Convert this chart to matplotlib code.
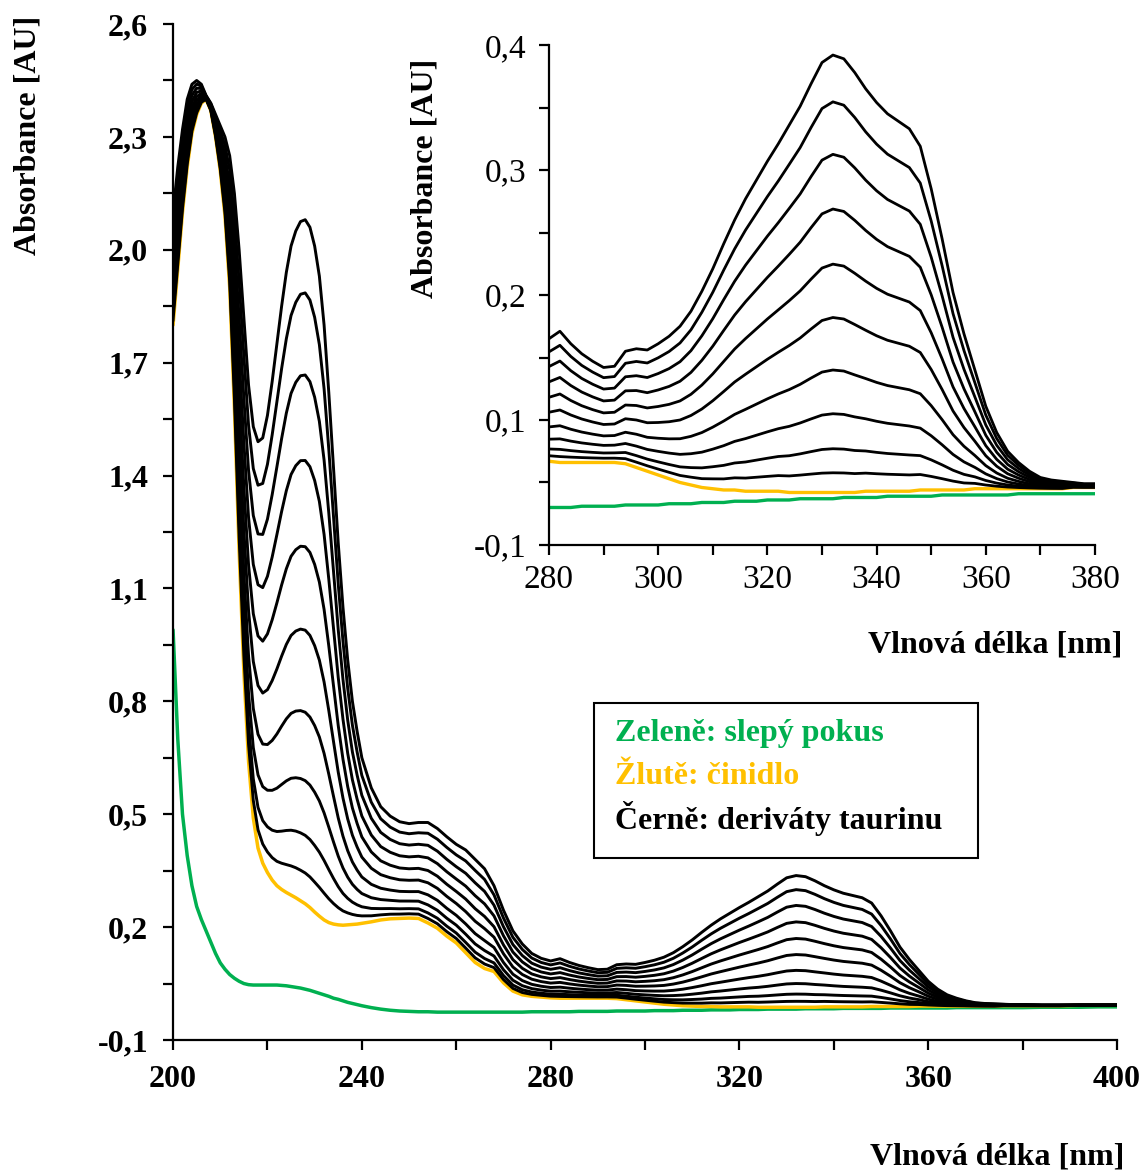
import numpy as np
import matplotlib
matplotlib.use("Agg")
import matplotlib.pyplot as plt
from matplotlib.patches import Rectangle

plt.rcParams['font.family'] = ['Liberation Serif', 'DejaVu Serif']

# wavelength grid [nm]
wl = np.concatenate([np.arange(200, 241, 1), np.arange(242, 381, 2), np.arange(384, 401, 4)])

# reagent alone (yellow)
reagent = [
    1.80, 1.95, 2.10, 2.22, 2.31, 2.36, 2.39, 2.40, 2.37, 2.30,
    2.21, 2.09, 1.90, 1.58, 1.20, 0.88, 0.64, 0.49, 0.41, 0.37,
    0.345, 0.325, 0.31, 0.30, 0.292, 0.285, 0.278, 0.27, 0.262, 0.252,
    0.24, 0.229, 0.219, 0.212, 0.208, 0.206, 0.205, 0.206, 0.207, 0.208,
    0.210,
    0.214, 0.219, 0.222, 0.223, 0.224, 0.223, 0.211, 0.197, 0.176, 0.158,
    0.132, 0.106, 0.090, 0.082, 0.052, 0.030, 0.020, 0.016, 0.014, 0.012,
    0.011, 0.011, 0.011, 0.011, 0.011, 0.011, 0.010, 0.007, 0.004, 0.001,
    -0.002, -0.005, -0.007, -0.009, -0.010, -0.011, -0.011, -0.012, -0.012, -0.012,
    -0.012, -0.013, -0.013, -0.013, -0.013, -0.013, -0.013, -0.013, -0.012, -0.012,
    -0.012, -0.012, -0.012, -0.011, -0.011, -0.011, -0.011, -0.011, -0.010, -0.010,
    -0.010, -0.010, -0.010, -0.010, -0.010, -0.010, -0.010, -0.009, -0.009, -0.009,
    -0.009, -0.009, -0.008, -0.008, -0.008,
]

# blank (green)
blank = [
    0.99, 0.70, 0.50, 0.39, 0.31, 0.255, 0.22, 0.19, 0.16, 0.13,
    0.105, 0.088, 0.074, 0.064, 0.056, 0.050, 0.047, 0.046, 0.046, 0.046,
    0.046, 0.046, 0.046, 0.045, 0.044, 0.042, 0.040, 0.038, 0.035, 0.032,
    0.028, 0.024, 0.020, 0.016, 0.011, 0.008, 0.004, 0.000, -0.003, -0.006,
    -0.009,
    -0.014, -0.018, -0.021, -0.023, -0.024, -0.025, -0.025, -0.026, -0.026, -0.026,
    -0.026, -0.026, -0.026, -0.026, -0.026, -0.026, -0.026, -0.025, -0.025, -0.025,
    -0.025, -0.025, -0.024, -0.024, -0.024, -0.024, -0.023, -0.023, -0.023, -0.023,
    -0.022, -0.022, -0.022, -0.021, -0.021, -0.021, -0.020, -0.020, -0.020, -0.019,
    -0.019, -0.019, -0.018, -0.018, -0.018, -0.018, -0.017, -0.017, -0.017, -0.017,
    -0.016, -0.016, -0.016, -0.016, -0.016, -0.015, -0.015, -0.015, -0.015, -0.015,
    -0.015, -0.015, -0.014, -0.014, -0.014, -0.014, -0.014, -0.014, -0.014, -0.014,
    -0.013, -0.013, -0.013, -0.012, -0.012,
]

# highest taurine derivative sample (top black curve)
top_sample = [
    2.10, 2.22, 2.32, 2.40, 2.44, 2.45, 2.44, 2.41, 2.39, 2.36,
    2.33, 2.30, 2.25, 2.15, 2.00, 1.82, 1.64, 1.53, 1.49, 1.50,
    1.56, 1.65, 1.75, 1.85, 1.94, 2.01, 2.05, 2.075, 2.08, 2.06,
    2.01, 1.93, 1.80, 1.62, 1.42, 1.22, 1.05, 0.91, 0.80, 0.72,
    0.65,
    0.57, 0.52, 0.495, 0.480, 0.475, 0.478, 0.478, 0.462, 0.440, 0.420,
    0.405, 0.380, 0.355, 0.310, 0.245, 0.190, 0.155, 0.130, 0.117, 0.110,
    0.116, 0.106, 0.098, 0.092, 0.087, 0.088, 0.100, 0.102, 0.101, 0.106,
    0.112, 0.120, 0.132, 0.148, 0.166, 0.186, 0.205, 0.222, 0.237, 0.252,
    0.266, 0.281, 0.296, 0.314, 0.331, 0.337, 0.334, 0.323, 0.310, 0.299,
    0.290, 0.284, 0.278, 0.264, 0.230, 0.190, 0.147, 0.114, 0.085, 0.056,
    0.035, 0.020, 0.011, 0.004, -0.001, -0.003, -0.004, -0.005, -0.006, -0.006,
    -0.007, -0.007, -0.007, -0.007, -0.007,
]

# relative derivative content of the black series (top = 1)
levels = [1.0, 0.893, 0.773, 0.648, 0.522, 0.40, 0.28, 0.18, 0.10, 0.045]

reagent = np.array(reagent)
blank = np.array(blank)
top_sample = np.array(top_sample)
samples = [reagent + k * (top_sample - reagent) for k in levels]

GREEN = '#00B050'
YELLOW = '#FFC000'
FS = 23


def comma(v):
    return ('%.1f' % v).replace('.', ',')


def draw(ax, lw):
    ax.plot(wl, blank, color=GREEN, lw=lw + 0.4, solid_capstyle='round')
    ax.plot(wl, reagent, color=YELLOW, lw=lw + 0.4, solid_capstyle='round')
    for s in samples:
        ax.plot(wl, s, color='black', lw=lw, solid_joinstyle='round')


def style(ax):
    for sp in ['top', 'right']:
        ax.spines[sp].set_visible(False)
    for sp in ['left', 'bottom']:
        ax.spines[sp].set_linewidth(1.6)
    ax.tick_params(which='both', direction='out', length=7, width=1.6)


fig = plt.figure(figsize=(11.43, 11.73), dpi=100)

# main chart
ax = fig.add_axes([0.1514, 0.1134, 0.8259, 0.8661])
draw(ax, 2.1)
style(ax)
ax.set_xlim(200, 400)
ax.set_ylim(-0.1, 2.6)
xmaj = [200, 240, 280, 320, 360, 400]
ax.set_xticks(xmaj, [str(v) for v in xmaj], fontsize=FS, fontweight='bold')
ax.set_xticks([220, 260, 300, 340, 380], minor=True)
ymaj = [-0.1 + 0.3 * i for i in range(10)]
ax.set_yticks(ymaj, [comma(v) for v in ymaj], fontsize=FS, fontweight='bold')
ax.set_yticks([v + 0.15 for v in ymaj[:-1]], minor=True)
ax.tick_params(axis='y', pad=11)
ax.tick_params(axis='x', pad=11)

fig.text(0.0245, 0.885, 'Absorbance [AU]', rotation=90, ha='center', va='center',
         fontsize=FS, fontweight='bold')
fig.text(0.984, 0.0136, 'Vlnová délka [nm]', ha='right', va='center',
         fontsize=FS, fontweight='bold')

# colour key
ax.add_patch(Rectangle((0.446, 0.179), 0.407, 0.1527, transform=ax.transAxes,
                       facecolor='white', edgecolor='black', lw=1.5, zorder=5))
key = [('Zeleně: slepý pokus', GREEN), ('Žlutě: činidlo', YELLOW),
       ('Černě: deriváty taurinu', 'black')]
for i, (txt, col) in enumerate(key):
    ax.text(0.468, 0.3012 - i * 0.0414, txt, transform=ax.transAxes, color=col,
            fontsize=FS, fontweight='bold', va='center', ha='left', zorder=6)

# zoomed inset 280-380 nm
ins = fig.add_axes([0.4803, 0.5354, 0.4777, 0.4262])
ins.set_facecolor('none')
draw(ins, 2.0)
style(ins)
ins.set_xlim(280, 380)
ins.set_ylim(-0.055, 0.345)
ins.set_xticks(range(280, 381, 20), [str(v) for v in range(280, 381, 20)], fontsize=24)
ins.set_xticks(range(290, 380, 20), minor=True)
iy = [-0.055, 0.045, 0.145, 0.245, 0.345]
ins.set_yticks(iy, ['-0,1', '0,1', '0,2', '0,3', '0,4'], fontsize=24)
ins.set_yticks([v + 0.05 for v in iy[:-1]], minor=True)
ins.tick_params(axis='y', pad=9)
ins.tick_params(axis='x', pad=7)

fig.text(0.372, 0.848, 'Absorbance [AU]', rotation=90, ha='center', va='center',
         fontsize=FS, fontweight='bold')
fig.text(0.9816, 0.450, 'Vlnová délka [nm]', ha='right', va='center',
         fontsize=FS, fontweight='bold')

fig.savefig('out.png', dpi=100)
